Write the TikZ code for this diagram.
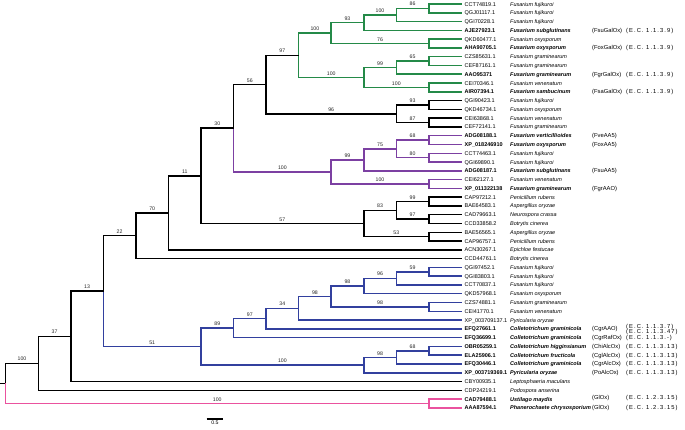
\documentclass[tikz,border=0pt]{standalone}
\usepackage{fontspec}
\setmainfont{Liberation Sans}
\definecolor{cgreen}{RGB}{36,138,72}
\definecolor{cpurple}{RGB}{124,64,162}
\definecolor{cblue}{RGB}{50,64,158}
\definecolor{cpink}{RGB}{234,82,158}
\tikzset{
 br/.style={line width=1.5pt, line cap=rect, draw=black},
 gbr/.style={br, draw=cgreen},
 pbr/.style={br, draw=cpurple},
 bbr/.style={br, draw=cblue},
 kbr/.style={br, draw=cpink},
 bs/.style={pos=0.75, above=0.6pt, inner sep=1pt, font=\fontsize{5.2}{5.5}\selectfont, text=black!85},
 lab/.style={anchor=base west, inner sep=0pt, font=\fontsize{5.5}{6}\selectfont},
 acc/.style={lab},
 bacc/.style={lab, font=\fontsize{5.5}{6}\selectfont\bfseries},
 spc/.style={lab, font=\fontsize{5.5}{6}\selectfont\itshape},
 bspc/.style={lab, font=\fontsize{5.5}{6}\selectfont\bfseries\itshape},
 enz/.style={lab, font=\fontsize{5.8}{6}\selectfont},
 ecn/.style={lab, font=\fontsize{5.8}{6}\selectfont\addfontfeature{LetterSpace=18}},
}
\begin{document}
\begin{tikzpicture}[x=1pt,y=-1pt]
\useasboundingbox (0,0) rectangle (685,429);
% leaf ends
\foreach \i in {1,...,47} \coordinate (l\i) at (461.4,{4+(\i-1)*8.78});
% internal nodes
\coordinate (nS) at (428.85,8.39);
\coordinate (nR) at (396.30,14.98);
\coordinate (nP) at (363.75,22.66);
\coordinate (nQ) at (428.85,43.51);
\coordinate (nN) at (331.20,33.08);
\coordinate (nV) at (428.85,61.07);
\coordinate (nT) at (396.30,67.66);
\coordinate (nU) at (428.85,87.41);
\coordinate (nO) at (363.75,77.53);
\coordinate (nL) at (298.65,55.31);
\coordinate (nM1) at (428.85,104.97);
\coordinate (nM2) at (428.85,122.53);
\coordinate (nM) at (396.30,113.75);
\coordinate (nJ) at (266.10,84.53);
\coordinate (nZ) at (428.85,140.09);
\coordinate (nAA) at (428.85,157.65);
\coordinate (nY) at (396.30,148.87);
\coordinate (nW) at (363.75,159.85);
\coordinate (nX) at (428.85,183.99);
\coordinate (nK) at (331.20,171.92);
\coordinate (nH) at (233.55,128.23);
\coordinate (nI99) at (428.85,201.55);
\coordinate (nI97) at (428.85,219.11);
\coordinate (nI83) at (396.30,210.33);
\coordinate (nI53) at (428.85,236.67);
\coordinate (nI) at (363.75,223.50);
\coordinate (nG) at (201.00,175.87);
\coordinate (nF) at (168.45,212.86);
\coordinate (nD) at (135.90,235.74);
\coordinate (nB59) at (428.85,271.79);
\coordinate (nB96) at (396.30,278.38);
\coordinate (nB98a) at (363.75,286.06);
\coordinate (nB98c) at (428.85,306.91);
\coordinate (nB98b) at (331.20,296.49);
\coordinate (nB34) at (298.65,308.28);
\coordinate (nB97) at (266.10,318.57);
\coordinate (nB89) at (233.55,328.11);
\coordinate (nB68) at (428.85,350.81);
\coordinate (nB98d) at (396.30,357.40);
\coordinate (nB100) at (363.75,365.08);
\coordinate (nE) at (201.00,346.60);
\coordinate (nC) at (103.35,291.17);
\coordinate (nB) at (70.80,336.36);
\coordinate (nA) at (38.25,363.34);
\coordinate (nG1) at (428.85,403.49);
\coordinate (root) at (5.70,383.42);
\coordinate (stub) at (0.75,383.42);
% green clade
\draw[gbr] (nR) |- node[bs]{86} (nS);
\draw[gbr] (nS) |- (l1); \draw[gbr] (nS) |- (l2);
\draw[gbr] (nP) |- node[bs]{100} (nR);
\draw[gbr] (nR) |- (l3);
\draw[gbr] (nN) |- node[bs]{93} (nP);
\draw[gbr] (nP) |- (l4);
\draw[gbr] (nN) |- node[bs]{76} (nQ);
\draw[gbr] (nQ) |- (l5); \draw[gbr] (nQ) |- (l6);
\draw[gbr] (nL) |- node[bs]{100} (nN);
\draw[gbr] (nT) |- node[bs]{65} (nV);
\draw[gbr] (nV) |- (l7); \draw[gbr] (nV) |- (l8);
\draw[gbr] (nO) |- node[bs]{99} (nT);
\draw[gbr] (nT) |- (l9);
\draw[gbr] (nO) |- node[bs]{100} (nU);
\draw[gbr] (nU) |- (l10); \draw[gbr] (nU) |- (l11);
\draw[gbr] (nL) |- node[bs]{100} (nO);
% black upper
\draw[br] (nJ) |- node[bs]{97} (nL);
\draw[br] (nM) |- node[bs]{93} (nM1);
\draw[br] (nM1) |- (l12); \draw[br] (nM1) |- (l13);
\draw[br] (nM) |- node[bs]{87} (nM2);
\draw[br] (nM2) |- (l14); \draw[br] (nM2) |- (l15);
\draw[br] (nJ) |- node[bs]{96} (nM);
\draw[br] (nH) |- node[bs]{56} (nJ);
% purple clade
\draw[pbr] (nY) |- node[bs]{68} (nZ);
\draw[pbr] (nZ) |- (l16); \draw[pbr] (nZ) |- (l17);
\draw[pbr] (nY) |- node[bs]{80} (nAA);
\draw[pbr] (nAA) |- (l18); \draw[pbr] (nAA) |- (l19);
\draw[pbr] (nW) |- node[bs]{75} (nY);
\draw[pbr] (nW) |- (l20);
\draw[pbr] (nK) |- node[bs]{99} (nW);
\draw[pbr] (nK) |- node[bs]{100} (nX);
\draw[pbr] (nX) |- (l21); \draw[pbr] (nX) |- (l22);
\draw[pbr] (nH) |- node[bs]{100} (nK);
% black middle
\draw[br] (nG) |- node[bs]{30} (nH);
\draw[br] (nI83) |- node[bs]{99} (nI99);
\draw[br] (nI99) |- (l23); \draw[br] (nI99) |- (l24);
\draw[br] (nI83) |- node[bs]{97} (nI97);
\draw[br] (nI97) |- (l25); \draw[br] (nI97) |- (l26);
\draw[br] (nI) |- node[bs]{83} (nI83);
\draw[br] (nI) |- node[bs]{53} (nI53);
\draw[br] (nI53) |- (l27); \draw[br] (nI53) |- (l28);
\draw[br] (nG) |- node[bs]{57} (nI);
\draw[br] (nF) |- node[bs]{11} (nG);
\draw[br] (nF) |- (l29);
\draw[br] (nD) |- node[bs]{70} (nF);
\draw[br] (nD) |- (l30);
\draw[br] (nC) |- node[bs]{22} (nD);
% blue clade
\draw[bbr] (nB96) |- node[bs]{59} (nB59);
\draw[bbr] (nB59) |- (l31); \draw[bbr] (nB59) |- (l32);
\draw[bbr] (nB96) |- (l33);
\draw[bbr] (nB98a) |- node[bs]{96} (nB96);
\draw[bbr] (nB98a) |- (l34);
\draw[bbr] (nB98b) |- node[bs]{98} (nB98a);
\draw[bbr] (nB98b) |- node[bs]{98} (nB98c);
\draw[bbr] (nB98c) |- (l35); \draw[bbr] (nB98c) |- (l36);
\draw[bbr] (nB34) |- node[bs]{98} (nB98b);
\draw[bbr] (nB34) |- (l37);
\draw[bbr] (nB97) |- node[bs]{34} (nB34);
\draw[bbr] (nB97) |- (l38);
\draw[bbr] (nB89) |- node[bs]{97} (nB97);
\draw[bbr] (nB89) |- (l39);
\draw[bbr] (nE) |- node[bs]{89} (nB89);
\draw[bbr] (nB98d) |- node[bs]{68} (nB68);
\draw[bbr] (nB68) |- (l40); \draw[bbr] (nB68) |- (l41);
\draw[bbr] (nB98d) |- (l42);
\draw[bbr] (nB100) |- node[bs]{98} (nB98d);
\draw[bbr] (nB100) |- (l43);
\draw[bbr] (nE) |- node[bs]{100} (nB100);
\draw[bbr] (nC) |- node[bs]{51} (nE);
% black lower
\draw[br] (nB) |- node[bs]{13} (nC);
\draw[br] (nB) |- (l44);
\draw[br] (nA) |- node[bs]{37} (nB);
\draw[br] (nA) |- (l45);
\draw[br] (root) |- node[bs]{100} (nA);
\draw[br] (stub) -- (root);
% pink clade
\draw[kbr] (nG1) |- (l46); \draw[kbr] (nG1) |- (l47);
\draw[kbr] (root) |- node[bs]{100} (nG1);
% scale bar
\coordinate (sb1) at (206.7,419);
\coordinate (sb2) at (223.3,419);
\draw[line width=1.4pt] (sb1) -- node[below=1pt, inner sep=0.5pt, font=\fontsize{5.2}{5.5}\selectfont] (sbl) {0.5} (sb2);
% labels: regular rows
\foreach \i/\ac/\sp in {1/CCT74819.1/Fusarium fujikuroi, 2/QGJ01117.1/Fusarium fujikuroi, 3/QGI70228.1/Fusarium fujikuroi, 5/QKD60477.1/Fusarium oxysporum, 7/CZS85631.1/Fusarium graminearum, 8/CEF87161.1/Fusarium graminearum, 10/CEI70346.1/Fusarium venenatum, 12/QGI90423.1/Fusarium fujikuroi, 13/QKD46734.1/Fusarium oxysporum, 14/CEI63868.1/Fusarium venenatum, 15/CEF72141.1/Fusarium graminearum, 18/CCT74463.1/Fusarium fujikuroi, 19/QGI69890.1/Fusarium fujikuroi, 21/CEI62127.1/Fusarium venenatum, 23/CAP97212.1/Penicillium rubens, 24/BAE64583.1/Aspergillus oryzae, 25/CAD79663.1/Neurospora crassa, 26/CCD33858.2/Botrytis cinerea, 27/BAE56565.1/Aspergillus oryzae, 28/CAP96757.1/Penicillium rubens, 29/ACN30267.1/Epichloe festucae, 30/CCD44761.1/Botrytis cinerea, 31/QGI97452.1/Fusarium fujikuroi, 32/QGI83803.1/Fusarium fujikuroi, 33/CCT70837.1/Fusarium fujikuroi, 34/QKD57968.1/Fusarium oxysporum, 35/CZS74881.1/Fusarium graminearum, 36/CEI41770.1/Fusarium venenatum, 37/XP\_003709137.1/Pyricularia oryzae, 44/CBY00935.1/Leptosphaeria maculans, 45/CDP24219.1/Podospora anserina}
{
 \node[acc] (a\i) at (464.5,{6+(\i-1)*8.78}) {\ac};
 \node[spc] (s\i) at (510,{6+(\i-1)*8.78}) {\sp};
}
% bold rows
\foreach \i/\ac/\sp in {4/AJE27923.1/Fusarium subglutinans, 6/AHA90705.1/Fusarium oxysporum, 9/AAO95371/Fusarium graminearum, 11/AIR07394.1/Fusarium sambucinum, 16/ADG08188.1/Fusarium verticillioides, 17/XP\_018246910/Fusarium oxysporum, 20/ADG08187.1/Fusarium subglutinans, 22/XP\_011322138/Fusarium graminearum, 38/EFQ27661.1/Colletotrichum graminicola, 39/EFQ36699.1/Colletotrichum graminicola, 40/OBR05259.1/Colletotrichum higginsianum, 41/ELA25906.1/Colletotrichum fructicola, 42/EFQ30446.1/Colletotrichum graminicola, 43/XP\_003719369.1/Pyricularia oryzae, 46/CAD79488.1/Ustilago maydis, 47/AAA87594.1/Phanerochaete chrysosporium}
{
 \node[bacc] (a\i) at (464.5,{6+(\i-1)*8.78}) {\ac};
 \node[bspc] (s\i) at (510,{6+(\i-1)*8.78}) {\sp};
}
% enzyme names
\foreach \i/\pr in {4/FsuGalOx, 6/FoxGalOx, 9/FgrGalOx, 11/FsaGalOx, 16/FveAA5, 17/FoxAA5, 20/FsuAA5, 22/FgrAAO, 38/CgrAAO, 39/CgrRafOx, 40/ChiAlcOx, 41/CglAlcOx, 42/CgrAlcOx, 43/PoAlcOx, 47/GlOx}
 \node[enz] (p\i) at (592,{6+(\i-1)*8.78}) {(\pr)};
\node[enz] (p46) at (592,399.1) {(GlOx)};
% E.C. numbers
\foreach \i/\ec in {4/1.1.3.9, 6/1.1.3.9, 9/1.1.3.9, 11/1.1.3.9, 39/1.1.3.-, 40/1.1.3.13, 41/1.1.3.13, 42/1.1.3.13, 43/1.1.3.13, 47/1.2.3.15}
 \node[ecn] (e\i) at (626,{6+(\i-1)*8.78}) {(E.C. \ec)};
\node[ecn] (e38a) at (626,328.2) {(E.C. 1.1.3.7)};
\node[ecn] (e38b) at (626,333.4) {(E.C. 1.1.3.47)};
\node[ecn] (e46) at (626,399.1) {(E.C. 1.2.3.15)};
\end{tikzpicture}
\end{document}
